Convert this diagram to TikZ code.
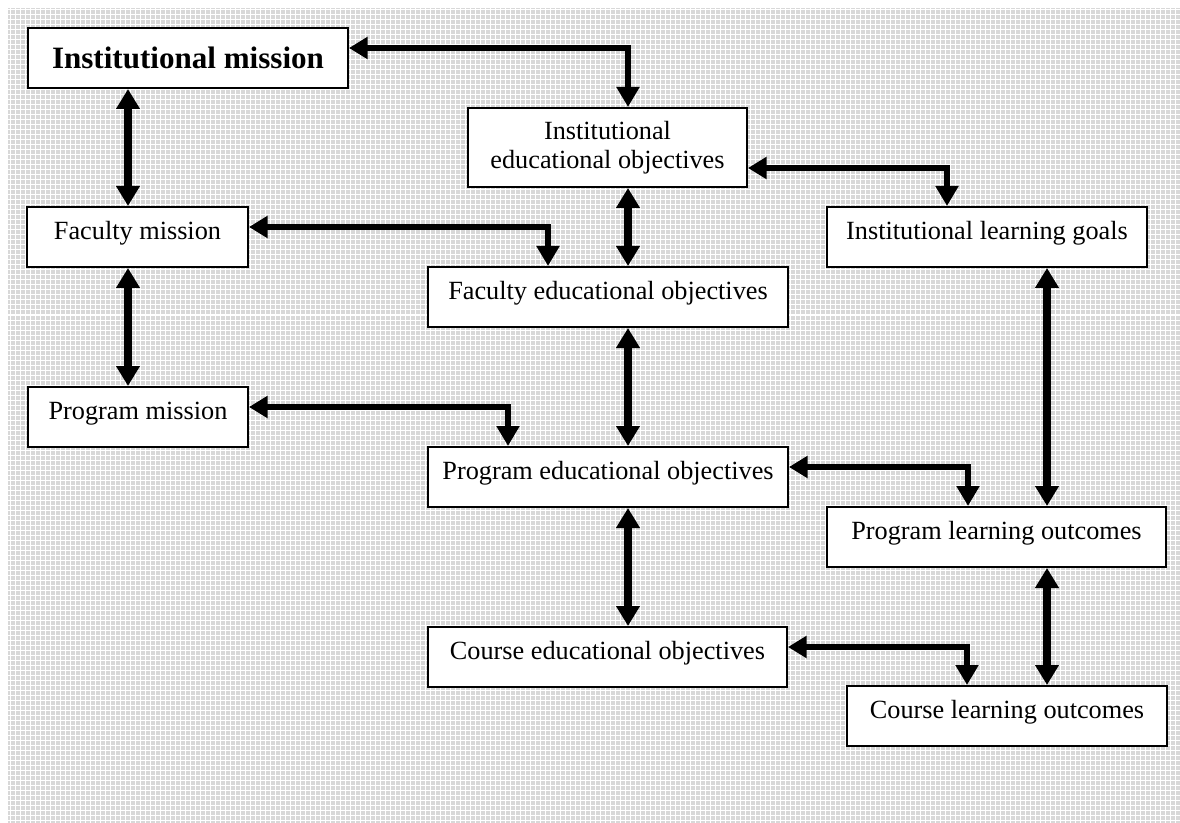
\documentclass[tikz,border=0pt]{standalone}
\usepackage{fontspec}
\setmainfont{Liberation Serif}
\usetikzlibrary{arrows.meta}
\definecolor{bggray}{RGB}{216,216,216}
\begin{document}
\begin{tikzpicture}[x=0.75pt,y=-0.75pt,
  box/.style={draw, line width=1.5pt, fill=white, inner sep=0pt, align=center,
    font=\fontsize{19.7pt}{22pt}\selectfont},
  onel/.style={text height=0.7em, text depth=0.38em},
  conn/.style={line width=5pt, {Triangle[width=16pt,length=14pt]}-{Triangle[width=16.5pt,length=15pt]}},
  vconn/.style={line width=5.5pt, {Triangle[width=17pt,length=15pt]}-{Triangle[width=17pt,length=15pt]}}]
\useasboundingbox (0,0) rectangle (1180,823);
\fill[bggray] (8,8) rectangle (1180,823);
\begin{scope}
\clip (8,8) rectangle (1180,823);
\draw[white, line width=0.75pt, step=3.75pt] (8,8) grid (1180,823);
\end{scope}
% boxes
\node[box, minimum width=240pt, minimum height=45pt, font=\fontsize{23.3pt}{26pt}\selectfont\bfseries] (IM) at (188,58) {Institutional mission};
\node[box, minimum width=209.25pt, minimum height=59.25pt] (IEO) at (607.5,147.5) {Institutional\\educational objectives};
\node[box, onel, minimum width=165.75pt, minimum height=45pt] (FM) at (137.5,237) {Faculty mission};
\node[box, onel, minimum width=270pt, minimum height=45pt] (FEO) at (608,297) {Faculty educational objectives};
\node[box, onel, minimum width=240pt, minimum height=45pt] (ILG) at (987,237) {Institutional learning goals};
\node[box, onel, minimum width=165pt, minimum height=45pt] (PM) at (138,417) {Program mission};
\node[box, onel, minimum width=270pt, minimum height=45pt] (PEO) at (608,477) {Program educational objectives};
\node[box, onel, minimum width=254.25pt, minimum height=45pt] (PLO) at (996.5,537) {Program learning outcomes};
\node[box, onel, minimum width=269.25pt, minimum height=45pt] (CEO) at (607.5,657) {Course educational objectives};
\node[box, onel, minimum width=240pt, minimum height=45pt] (CLO) at (1007,716) {Course learning outcomes};
% connectors
\draw[conn] (IM.east |- 0,48) -| (628,0 |- IEO.north);
\draw[vconn] (128,0 |- IM.south) -- (128,0 |- FM.north);
\draw[conn] (IEO.east |- 0,168) -| (947,0 |- ILG.north);
\draw[conn] (FM.east |- 0,227) -| (548,0 |- FEO.north);
\draw[vconn] (628,0 |- IEO.south) -- (628,0 |- FEO.north);
\draw[vconn] (128,0 |- FM.south) -- (128,0 |- PM.north);
\draw[conn] (PM.east |- 0,407) -| (508,0 |- PEO.north);
\draw[vconn] (628,0 |- FEO.south) -- (628,0 |- PEO.north);
\draw[conn] (PEO.east |- 0,467) -| (968,0 |- PLO.north);
\draw[vconn] (1047,0 |- ILG.south) -- (1047,0 |- PLO.north);
\draw[vconn] (628,0 |- PEO.south) -- (628,0 |- CEO.north);
\draw[vconn] (1047,0 |- PLO.south) -- (1047,0 |- CLO.north);
\draw[conn] (CEO.east |- 0,647) -| (967,0 |- CLO.north);
\end{tikzpicture}
\end{document}
